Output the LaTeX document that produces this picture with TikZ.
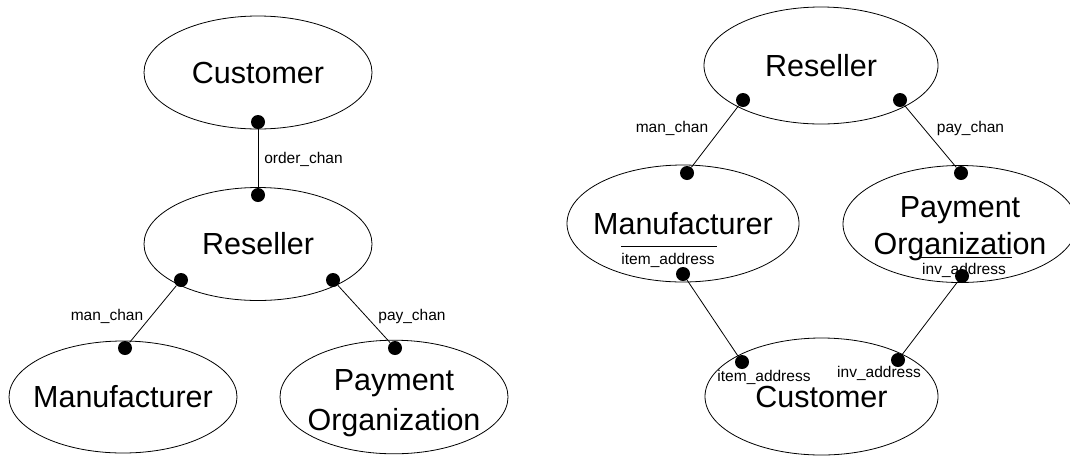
\documentclass[tikz,border=0pt]{standalone}
\usepackage{fontspec}
\setmainfont{Liberation Sans}
\usetikzlibrary{shapes.geometric}
% a line of text that does not widen its ellipse
\newcommand{\nowide}[1]{\makebox[0pt]{#1}}
\begin{document}
\begin{tikzpicture}[x=1pt,y=-1pt,
  role/.style={draw,ellipse,line width=0.8pt,inner sep=0pt,align=center,
    font=\fontsize{30.5}{37}\selectfont},
  port/.style={circle,fill=black,inner sep=0pt,minimum size=14pt},
  chan/.style={line width=0.8pt},
  lbl/.style={inner sep=0pt,anchor=base,font=\fontsize{15.5}{18}\selectfont},
  bar/.style={line width=0.8pt}]
\useasboundingbox (0,0) rectangle (1070,456);

% ---- system view: customer talks to the reseller only ----
\node[role,minimum width=228pt,minimum height=113pt] (cust) at (258,72.5) {\nowide{Customer}};
\node[role,minimum width=228pt,minimum height=113pt] (res) at (258,244) {\nowide{Reseller}};
\node[role,minimum width=228pt,minimum height=112pt] (man) at (123,397) {\nowide{Manufacturer}};
\node[role,minimum width=228pt,minimum height=112pt,font=\fontsize{30.5}{40}\selectfont] (pay) at (394,397)
  {\nowide{\rule{0pt}{34pt}Payment}\\\nowide{Organization}};

\node[port] (cust-o) at (258,122) {};
\node[port] (res-o)  at (258,195) {};
\node[port] (res-m)  at (181,280) {};
\node[port] (res-p)  at (333,280) {};
\node[port] (man-r)  at (125,348) {};
\node[port] (pay-r)  at (395,348) {};

\draw[chan] (cust-o) -- (res-o);
\draw[chan] (res-m) -- (man-r);
\draw[chan] (res-p) -- (pay-r);

\node[lbl] (l-order) at (303.5,163) {order\_chan};
\node[lbl] (l-man)   at (107,320) {man\_chan};
\node[lbl] (l-pay)   at (412,320) {pay\_chan};

% ---- refined view: address channels to the customer ----
\node[role,minimum width=234pt,minimum height=117pt] (res2) at (821,65.5) {\nowide{Reseller}};
\node[role,minimum width=232pt,minimum height=117pt] (man2) at (683,223.5) {\nowide{Manufacturer}};
\node[role,minimum width=234pt,minimum height=117pt] (pay2) at (960,224)
  {\nowide{\rule{0pt}{30pt}Payment}\\\nowide{Organization}};
\node[role,minimum width=233pt,minimum height=117pt] (cust2) at (821.5,396.5) {\nowide{Customer}};

\node[port] (res2-m)  at (743,100) {};
\node[port] (res2-p)  at (900,100) {};
\node[port] (man2-r)  at (687,173) {};
\node[port] (pay2-r)  at (961,173) {};
\node[port] (man2-c)  at (683,274) {};
\node[port] (pay2-c)  at (962,276) {};
\node[port] (cust2-m) at (742,362) {};
\node[port] (cust2-p) at (898,360) {};

\draw[chan] (res2-m) -- (man2-r);
\draw[chan] (res2-p) -- (pay2-r);
\draw[chan] (man2-c) -- (cust2-m);
\draw[chan] (pay2-c) -- (cust2-p);

\node[lbl] (l-man2)  at (672,132) {man\_chan};
\node[lbl] (l-pay2)  at (970.5,132) {pay\_chan};
\node[lbl] (l-item)  at (668,264) {item\_address};
\node[lbl] (l-inv)   at (964,274) {inv\_address};
\node[lbl] (l-citem) at (764,381) {item\_address};
\node[lbl] (l-cinv)  at (879,377) {inv\_address};

\draw[bar] ([yshift=6pt]l-item.north west) -- ([yshift=6pt,xshift=2pt]l-item.north east);
\draw[bar] ([yshift=5pt,xshift=-3pt]l-inv.north west) -- ([yshift=5pt,xshift=6pt]l-inv.north east);
\end{tikzpicture}
\end{document}
